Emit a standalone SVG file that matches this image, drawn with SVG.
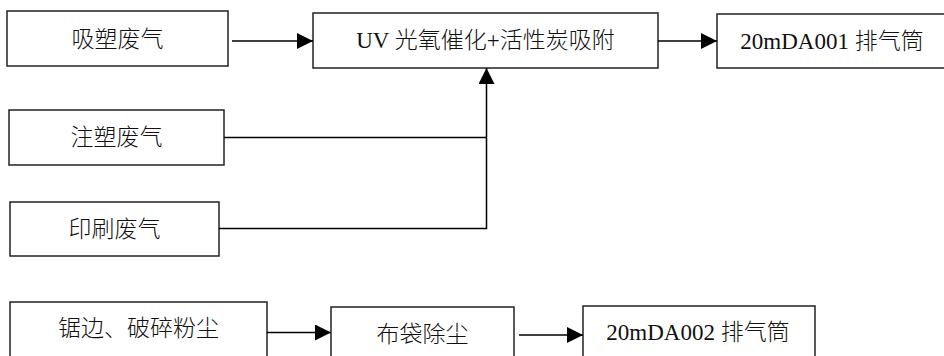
<svg xmlns="http://www.w3.org/2000/svg" width="944" height="356" viewBox="0 0 944 356">
<defs>
<style>
.box{fill:#fff;stroke:#222;stroke-width:1.5}
.lbl{font-family:"Liberation Serif","Noto Sans CJK SC",serif;font-size:23px;font-weight:300;fill:#111;text-anchor:middle;dominant-baseline:central}
.ln{fill:none;stroke:#000;stroke-width:1.5}
</style>
<marker id="ah" markerUnits="userSpaceOnUse" markerWidth="17" markerHeight="16" refX="16" refY="8" orient="auto">
<path d="M0,0 L16,8 L0,16 Z" fill="#000"/>
</marker>
</defs>
<rect width="944" height="356" fill="#fff"/>
<g id="n1"><rect class="box" x="7" y="11" width="221" height="55"/><text class="lbl" x="117.5" y="39">吸塑废气</text></g>
<g id="n2"><rect class="box" x="313" y="13" width="345" height="55"/><text class="lbl" x="485.5" y="40.5">UV 光氧催化+活性炭吸附</text></g>
<g id="n3"><rect class="box" x="717" y="14" width="232" height="54"/><text class="lbl" x="832" y="41">20mDA001 排气筒</text></g>
<g id="n4"><rect class="box" x="9" y="110" width="215" height="55"/><text class="lbl" x="116.5" y="137.5">注塑废气</text></g>
<g id="n5"><rect class="box" x="10" y="202" width="209" height="54"/><text class="lbl" x="114.5" y="229">印刷废气</text></g>
<g id="n6"><rect class="box" x="10" y="302" width="257" height="60"/><text class="lbl" x="138.5" y="328">锯边、破碎粉尘</text></g>
<g id="n7"><rect class="box" x="331" y="307" width="183" height="60"/><text class="lbl" x="422.5" y="334">布袋除尘</text></g>
<g id="n8"><rect class="box" x="583" y="306" width="232" height="60"/><text class="lbl" x="698" y="332.5">20mDA002 排气筒</text></g>
<g id="connectors">
<line class="ln" x1="232" y1="41" x2="313" y2="41" marker-end="url(#ah)"/>
<line class="ln" x1="658" y1="41" x2="717" y2="41" marker-end="url(#ah)"/>
<polyline class="ln" points="224,137.5 486.5,137.5"/>
<polyline class="ln" points="219,228.5 486.5,228.5 486.5,68" marker-end="url(#ah)"/>
<line class="ln" x1="267" y1="332.5" x2="331" y2="332.5" marker-end="url(#ah)"/>
<line class="ln" x1="519" y1="335" x2="583" y2="335" marker-end="url(#ah)"/>
</g>
</svg>
